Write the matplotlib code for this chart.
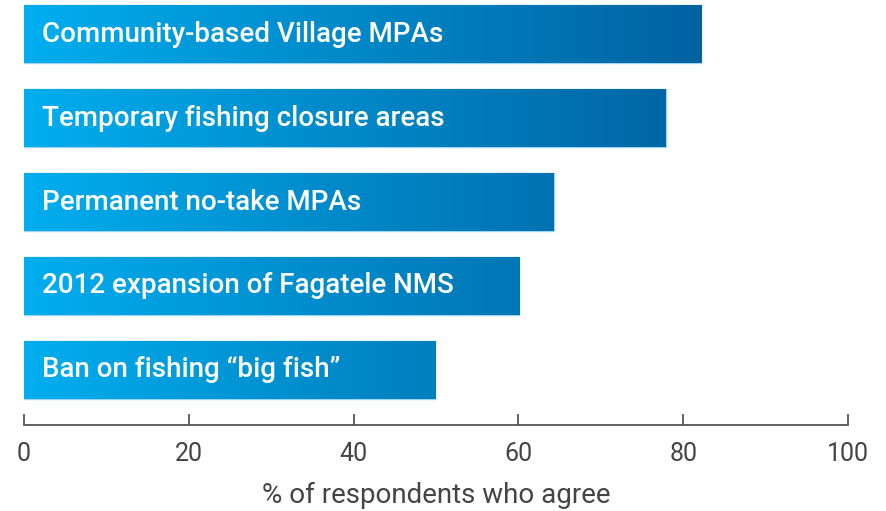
import numpy as np
import matplotlib.pyplot as plt
from matplotlib.colors import LinearSegmentedColormap

plt.rcParams['font.family'] = ['Roboto', 'DejaVu Sans']

labels = ["Community-based Village MPAs",
          "Temporary fishing closure areas",
          "Permanent no-take MPAs",
          "2012 expansion of Fagatele NMS",
          "Ban on fishing \u201cbig fish\u201d"]
values = [82.2, 77.9, 64.3, 60.1, 49.9]
ticks = [0, 20, 40, 60, 80, 100]

cmap = LinearSegmentedColormap.from_list("blues", ["#00AEEF", "#0086C6", "#0061A0"])

fig = plt.figure(figsize=(8.87, 5.11), dpi=100)
ax = fig.add_axes([24/887, 1 - 425/511, 824/887, 425/511])

grad = np.linspace(0, 1, 256).reshape(1, -1)
h = 0.69
for i, (lab, v) in enumerate(zip(labels, values)):
    bars = ax.barh(i, v, height=h, color='none', edgecolor='#9DD6F2', linewidth=1.0)
    im = ax.imshow(grad, cmap=cmap, aspect='auto', vmin=0, vmax=1,
                   extent=[0, 84, i + h/2, i - h/2], zorder=1)
    im.set_clip_path(bars.patches[0])
    ax.text(2.15, i, lab, color='white', fontsize=20, fontweight='medium',
            ha='left', va='center', zorder=3)

ax.set_xlim(0, 100)
ax.set_ylim(4.655, -0.405)
ax.set_yticks([])
ax.set_xticks(ticks)
ax.set_xticklabels([str(t) for t in ticks])
for s in ['top', 'right', 'left']:
    ax.spines[s].set_visible(False)
ax.spines['bottom'].set_color('#555555')
ax.spines['bottom'].set_linewidth(1.3)
ax.tick_params(axis='x', direction='in', length=8, width=1.3, color='#555555',
               labelsize=18, labelcolor='#444444', pad=12)
ax.set_xlabel('% of respondents who agree', fontsize=20, color='#444444', labelpad=12)

fig.savefig('out.png', dpi=100)
